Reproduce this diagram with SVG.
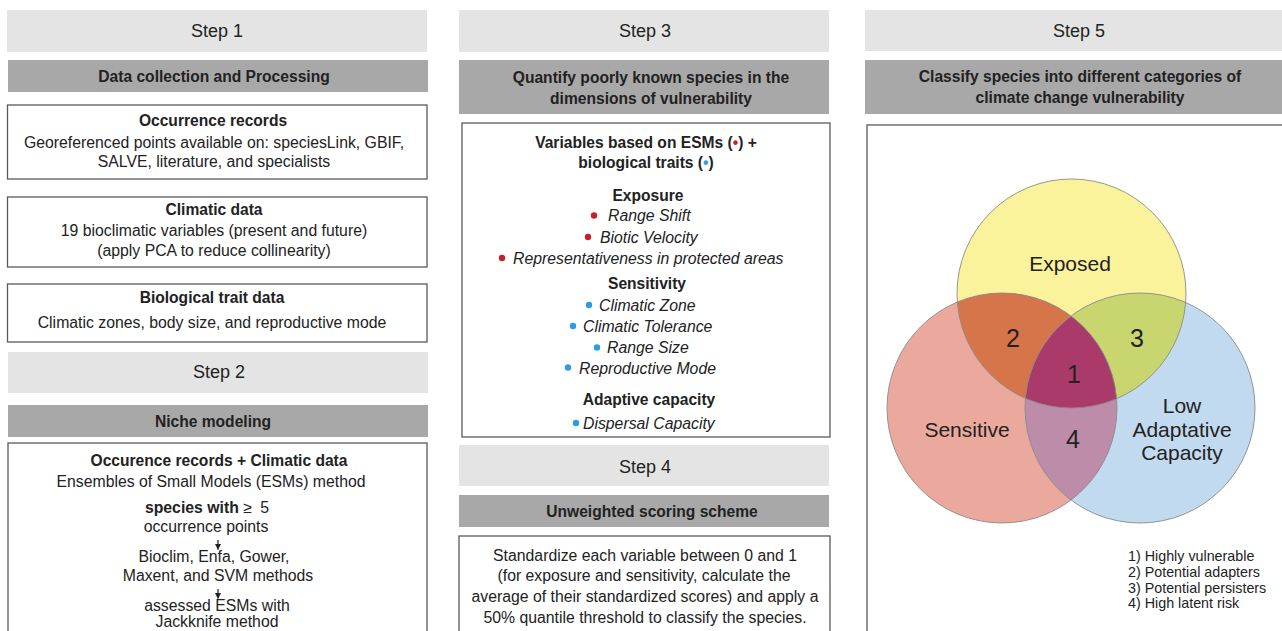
<svg xmlns="http://www.w3.org/2000/svg" width="1282" height="631" viewBox="0 0 1282 631">
<defs>
<style>
text{font-family:"Liberation Sans",Arial,sans-serif;fill:#222;}
.step{fill:#e3e4e3;}
.hdr{fill:#a8a8a8;}
.box{fill:#fff;stroke:#5a5a5a;stroke-width:1.3;}
.st{font-size:18px;text-anchor:middle;}
.h{font-size:15.6px;font-weight:bold;text-anchor:middle;}
.b{font-size:15.8px;text-anchor:middle;}
.bl{font-size:15.6px;font-weight:bold;text-anchor:middle;}
.it{font-size:15.8px;font-style:italic;}
.red{fill:#c8202a;}
.blue{fill:#2b9de0;}
.vl{font-size:21px;text-anchor:middle;}
.num{font-size:25px;text-anchor:middle;}
.lg{font-size:14.3px;}
.ring{fill:none;stroke:#8a8a8a;stroke-width:0.9;}
</style>
<marker id="ah" viewBox="0 0 6 6" refX="5.5" refY="3" markerWidth="6" markerHeight="6" markerUnits="userSpaceOnUse" orient="auto">
<path d="M0,0 L6,3 L0,6 Z" fill="#222"/>
</marker>
<clipPath id="cY"><circle cx="1071.5" cy="293.5" r="114.5"/></clipPath>
<clipPath id="cR"><circle cx="1002" cy="408" r="115"/></clipPath>
<clipPath id="cB"><circle cx="1140" cy="408" r="115"/></clipPath>
</defs>
<rect width="1282" height="631" fill="#fff"/>

<!-- Column 1 -->
<g id="step1">
<rect class="step" x="7" y="10" width="420" height="42"/>
<text class="st" x="217" y="37">Step 1</text>
</g>
<g id="header1">
<rect class="hdr" x="8" y="60" width="420" height="32"/>
<text class="h" x="214" y="82">Data collection and Processing</text>
</g>
<g id="occurrence">
<rect class="box" x="7.5" y="105" width="419.5" height="74"/>
<text class="bl" x="213" y="126">Occurrence records</text>
<text class="b" x="214" y="148">Georeferenced points available on: speciesLink, GBIF,</text>
<text class="b" x="214" y="167">SALVE, literature, and specialists</text>
</g>
<g id="climatic">
<rect class="box" x="7.5" y="197" width="419.5" height="70"/>
<text class="bl" x="214" y="215">Climatic data</text>
<text class="b" x="214" y="236">19 bioclimatic variables (present and future)</text>
<text class="b" x="214" y="256">(apply PCA to reduce collinearity)</text>
</g>
<g id="biotrait">
<rect class="box" x="7.5" y="284" width="419.5" height="58"/>
<text class="bl" x="212" y="303">Biological trait data</text>
<text class="b" x="212" y="328">Climatic zones, body size, and reproductive mode</text>
</g>
<g id="step2">
<rect class="step" x="8" y="352" width="420" height="41"/>
<text class="st" x="219" y="378">Step 2</text>
</g>
<g id="header2">
<rect class="hdr" x="8" y="405" width="420" height="32"/>
<text class="h" x="213" y="427">Niche modeling</text>
</g>
<g id="niche">
<rect class="box" x="8" y="443" width="419" height="220"/>
<text class="bl" x="219" y="466">Occurence records + Climatic data</text>
<text class="b" x="211" y="487">Ensembles of Small Models (ESMs) method</text>
<text class="b" x="207" y="513"><tspan font-weight="bold">species with</tspan> ≥ <tspan dx="4">5</tspan></text>
<text class="b" x="206" y="532">occurrence points</text>
<text class="b" x="214" y="562">Bioclim, Enfa, Gower,</text>
<text class="b" x="218" y="581">Maxent, and SVM methods</text>
<text class="b" x="217" y="611">assessed ESMs with</text>
<text class="b" x="217" y="627">Jackknife method</text>
</g>

<!-- Column 2 -->
<g id="step3">
<rect class="step" x="459" y="10" width="370" height="42"/>
<text class="st" x="645" y="37">Step 3</text>
</g>
<g id="header3">
<rect class="hdr" x="459" y="60" width="370" height="54"/>
<text class="h" x="651" y="83">Quantify poorly known species in the</text>
<text class="h" x="651" y="104">dimensions of vulnerability</text>
</g>
<g id="variables">
<rect class="box" x="462" y="123" width="368" height="314"/>
<text class="bl" x="646" y="148">Variables based on ESMs (<tspan class="red">•</tspan>) +</text>
<text class="bl" x="646" y="168">biological traits (<tspan class="blue">•</tspan>)</text>
<text class="bl" x="648" y="201">Exposure</text>
<circle class="red" cx="594" cy="215.5" r="3.2"/>
<text class="it" x="608" y="221">Range Shift</text>
<circle class="red" cx="588" cy="237" r="3.2"/>
<text class="it" x="600" y="243">Biotic Velocity</text>
<circle class="red" cx="502" cy="258" r="3.2"/>
<text class="it" x="513" y="264">Representativeness in protected areas</text>
<text class="bl" x="647" y="289">Sensitivity</text>
<circle class="blue" cx="589" cy="305" r="3.2"/>
<text class="it" x="599" y="311">Climatic Zone</text>
<circle class="blue" cx="573" cy="326" r="3.2"/>
<text class="it" x="583" y="332">Climatic Tolerance</text>
<circle class="blue" cx="597" cy="347.5" r="3.2"/>
<text class="it" x="607" y="353">Range Size</text>
<circle class="blue" cx="568" cy="367.5" r="3.2"/>
<text class="it" x="579" y="374">Reproductive Mode</text>
<text class="bl" x="649" y="405">Adaptive capacity</text>
<circle class="blue" cx="576" cy="423" r="3.2"/>
<text class="it" x="583" y="429">Dispersal Capacity</text>
</g>
<g id="step4">
<rect class="step" x="459" y="445" width="370" height="41"/>
<text class="st" x="645" y="473">Step 4</text>
</g>
<g id="header4">
<rect class="hdr" x="459" y="495" width="370" height="32"/>
<text class="h" x="652" y="517">Unweighted scoring scheme</text>
</g>
<g id="scoring">
<rect class="box" x="459" y="536" width="371" height="120"/>
<text class="b" x="645" y="561">Standardize each variable between 0 and 1</text>
<text class="b" x="644" y="581">(for exposure and sensitivity, calculate the</text>
<text class="b" x="645" y="602">average of their standardized scores) and apply a</text>
<text class="b" x="645" y="623">50% quantile threshold to classify the species.</text>
</g>

<!-- Column 3 -->
<g id="step5">
<rect class="step" x="865" y="10" width="420" height="41"/>
<text class="st" x="1079" y="37">Step 5</text>
</g>
<g id="header5">
<rect class="hdr" x="865" y="60" width="420" height="54"/>
<text class="h" x="1080" y="82">Classify species into different categories of</text>
<text class="h" x="1080" y="103">climate change vulnerability</text>
</g>
<g id="classbox">
<rect class="box" x="867" y="125" width="430" height="530"/>
</g>
<g id="venn">
<circle cx="1071.5" cy="293.5" r="114.5" fill="#fbf39b"/>
<circle cx="1002" cy="408" r="115" fill="#eba99d"/>
<circle cx="1140" cy="408" r="115" fill="#c2daf0"/>
<g clip-path="url(#cY)"><circle cx="1002" cy="408" r="115" fill="#d7754a"/></g>
<g clip-path="url(#cY)"><circle cx="1140" cy="408" r="115" fill="#c9d66f"/></g>
<g clip-path="url(#cR)"><circle cx="1140" cy="408" r="115" fill="#bd8ca9"/></g>
<g clip-path="url(#cR)"><g clip-path="url(#cY)"><circle cx="1140" cy="408" r="115" fill="#a93a6a"/></g></g>
<circle class="ring" cx="1071.5" cy="293.5" r="114.5"/>
<circle class="ring" cx="1002" cy="408" r="115"/>
<circle class="ring" cx="1140" cy="408" r="115"/>
<text class="vl" x="1070" y="271">Exposed</text>
<text class="vl" x="967" y="437">Sensitive</text>
<text class="vl" x="1182" y="413">Low</text>
<text class="vl" x="1182" y="437">Adaptative</text>
<text class="vl" x="1182" y="460">Capacity</text>
<text class="num" x="1013" y="347">2</text>
<text class="num" x="1137" y="347">3</text>
<text class="num" x="1074" y="383">1</text>
<text class="num" x="1073" y="448">4</text>
</g>
<g id="legend">
<text class="lg" x="1128" y="561">1) Highly vulnerable</text>
<text class="lg" x="1128" y="577">2) Potential adapters</text>
<text class="lg" x="1128" y="593">3) Potential persisters</text>
<text class="lg" x="1128" y="608">4) High latent risk</text>
</g>

<g id="connectors" stroke="#222" stroke-width="1.2" fill="none">
<line x1="218" y1="540" x2="218" y2="549.5" marker-end="url(#ah)"/>
<line x1="218" y1="589" x2="218" y2="598.5" marker-end="url(#ah)"/>
</g>
</svg>
